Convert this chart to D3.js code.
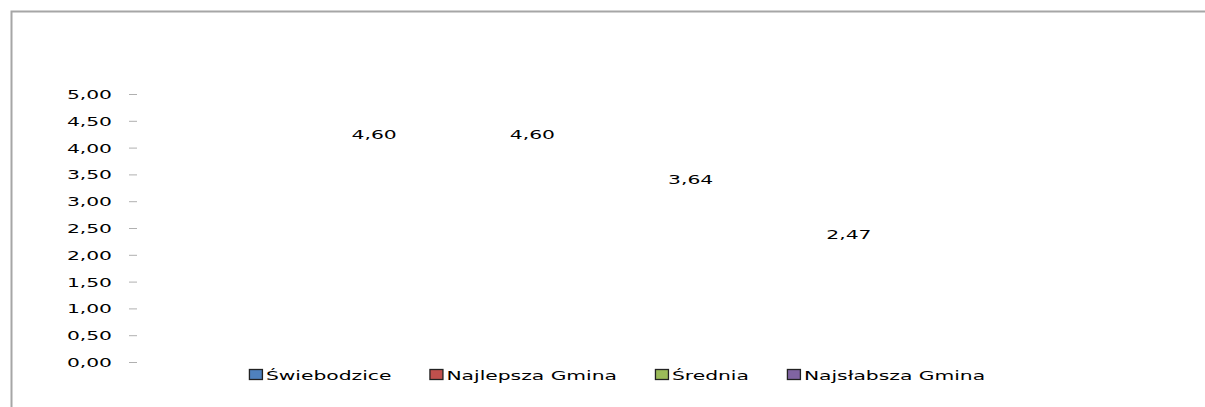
<!DOCTYPE html>
<html>
<head>
<meta charset="utf-8">
<script src="https://cdn.jsdelivr.net/npm/d3@7"></script>
<style>
  body { margin: 0; background: #fff; }
  text { font-family: "DejaVu Sans", Verdana, sans-serif; fill: #000; }
</style>
</head>
<body>
<svg id="chart" width="1205" height="407"></svg>
<script>
// Données du graphique
const series = ["Świebodzice", "Najlepsza Gmina", "Średnia", "Najsłabsza Gmina"];
const values = [4.60, 4.60, 3.64, 2.47];
const colors = ["#4F81BD", "#C0504D", "#9BBB59", "#8064A2"];
const yTicks = [0, 0.5, 1, 1.5, 2, 2.5, 3, 3.5, 4, 4.5, 5];

const svg = d3.select("#chart");
const stretch = 1.56; // le texte de l'original est étiré horizontalement
const fmt = d => d3.format(".2f")(d).replace(".", ",");

// Cadre (seulement haut et gauche visibles)
svg.append("path")
    .attr("d", "M11.5,407 L11.5,11.5 L1205,11.5")
    .attr("fill", "none")
    .attr("stroke", "#a6a6a6")
    .attr("stroke-width", 2);

// Echelles
const y = d3.scaleLinear().domain([0, 5]).range([362, 94]);
const labelY = d3.scaleLinear().domain([0, 5]).range([352, 115]);
const x = d3.scaleBand().domain(series).range([295, 928]);

// Axe vertical
const axis = svg.append("g")
    .attr("transform", "translate(137,0)")
    .call(d3.axisLeft(y).tickValues(yTicks).tickSize(8).tickFormat(fmt));
axis.select(".domain").remove();
axis.selectAll(".tick line").attr("stroke", "#b0b0b0");
axis.selectAll(".tick text")
    .attr("x", 0)
    .attr("dy", "0.35em")
    .attr("font-size", 13)
    .attr("transform", `translate(-25,0) scale(${stretch},1)`)
    .style("font-family", "'DejaVu Sans', Verdana, sans-serif")
    .attr("fill", "#000");

// Etiquettes de données
svg.selectAll(".lbl")
    .data(values)
    .enter()
    .append("text")
    .attr("class", "lbl")
    .attr("font-size", 13)
    .attr("text-anchor", "middle")
    .attr("dy", "0.35em")
    .attr("transform", (d, i) => `translate(${x(series[i]) + x.bandwidth() / 2},${labelY(d)}) scale(${stretch},1)`)
    .text(d => fmt(d));

// Légende
const legend = svg.append("g");
const gap = 38;
let cx = 0;
series.forEach(function (s, i) {
    const g = legend.append("g").attr("transform", `translate(${cx},0)`);
    g.append("rect")
        .attr("x", 0.5).attr("y", -5.5)
        .attr("width", 13).attr("height", 10)
        .attr("fill", colors[i])
        .attr("stroke", "#222")
        .attr("stroke-width", 1.3);
    const t = g.append("text")
        .attr("font-size", 13)
        .attr("dy", "0.35em")
        .attr("transform", `translate(17,0) scale(${stretch},1)`)
        .text(s);
    const w = t.node().getComputedTextLength() * stretch;
    cx += 17 + w + gap;
});
const totalW = cx - gap;
legend.attr("transform", `translate(${617 - totalW / 2},375)`);
</script>
</body>
</html>
